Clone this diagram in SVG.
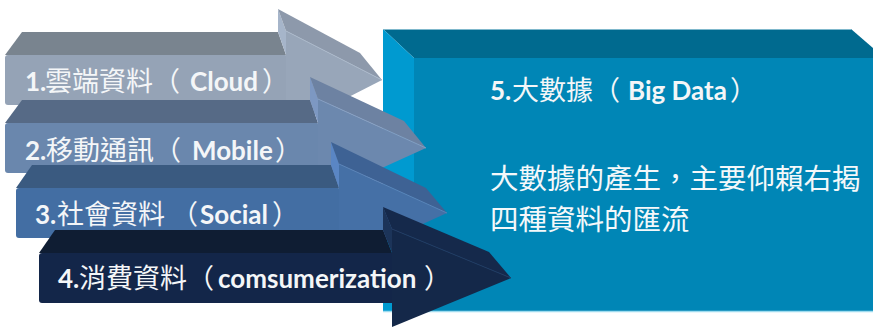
<svg xmlns="http://www.w3.org/2000/svg" width="873" height="329" viewBox="0 0 873 329">
<style>
.lbl{font-family:"Lato","Noto Sans CJK TC",sans-serif;font-size:26px;font-weight:bold;fill:#f4f6f8}
.cjk{font-family:"Noto Sans CJK TC",sans-serif;font-weight:normal;font-size:27px}
.body{font-family:"Noto Sans CJK TC",sans-serif;font-size:28.5px;fill:#f4f8fa}
.ridge{stroke-width:1;fill:none}
</style>
<rect width="873" height="329" fill="#ffffff"/>
<g id="bigdata">
  <polygon points="383,29 851,29 873,48 873,58 414,58" fill="#006a8f"/>
  <polygon points="383,29 414,58 414,311 383,311" fill="#009ad0"/>
  <rect x="414" y="58" width="459" height="253" fill="#0086b6"/>
  <line x1="383" y1="29.5" x2="851" y2="29.5" stroke="#7fb8cc" stroke-width="1"/>
  <line x1="383" y1="311.5" x2="873" y2="311.5" stroke="#9fdcef" stroke-width="1.5"/>
  <text class="lbl" x="490" y="100">5.<tspan class="cjk" x="512">大數據</tspan><tspan class="cjk" x="593">（</tspan><tspan x="628">Big Data</tspan><tspan class="cjk" x="730">）</tspan></text>
  <text class="body" x="490" y="189">大數據的產生，主要仰賴右揭</text>
  <text class="body" x="490" y="230">四種資料的匯流</text>
</g>
<g id="cloud">
  <polygon points="5,55 22,32 278,32 286,55" fill="#79848f"/>
  <polygon points="278,9 286,31 286,55 278,32" fill="#a6b5ca"/>
  <polygon points="278,9 360,53 382,80 286,31" fill="#8d99ab"/>
  <rect x="5" y="55" width="283" height="50" rx="3" fill="#95a3b6"/>
  <polygon points="286,31 382,80 286,129" fill="#98a6b9"/>
  <line class="ridge" x1="286" y1="31" x2="382" y2="80" stroke="#aab8ca"/>
  <text class="lbl" x="25" y="91">1.<tspan class="cjk" x="45">雲端資料</tspan><tspan class="cjk" x="153">（</tspan><tspan x="190">Cloud</tspan><tspan class="cjk" x="262">）</tspan></text>
</g>
<g id="mobile">
  <polygon points="5,123 22,100 310,100 318,123" fill="#566a86"/>
  <polygon points="310,77 318,99 318,123 310,100" fill="#7d98c2"/>
  <polygon points="310,77 404,121 426,148 318,99" fill="#6d82a2"/>
  <rect x="5" y="123" width="315" height="50" rx="3" fill="#6a87ad"/>
  <polygon points="318,99 426,148 318,197" fill="#6c88ae"/>
  <line class="ridge" x1="318" y1="99" x2="426" y2="148" stroke="#869fc2"/>
  <text class="lbl" x="25" y="160">2.<tspan class="cjk" x="46">移動通訊</tspan><tspan class="cjk" x="154">（</tspan><tspan x="192">Mobile</tspan><tspan class="cjk" x="275">）</tspan></text>
</g>
<g id="social">
  <polygon points="16,188 32,165 331,165 339,188" fill="#3a5a80"/>
  <polygon points="331,142 339,164 339,188 331,165" fill="#5a86c4"/>
  <polygon points="331,142 426,188 447,213 339,164" fill="#3e6294"/>
  <rect x="16" y="188" width="325" height="50" rx="3" fill="#436ea3"/>
  <polygon points="339,164 447,213 339,262" fill="#4570a6"/>
  <line class="ridge" x1="339" y1="164" x2="447" y2="213" stroke="#5b84b8"/>
  <text class="lbl" x="35" y="224">3.<tspan class="cjk" x="57">社會資料</tspan><tspan class="cjk" x="171">（</tspan><tspan x="200">Social</tspan><tspan class="cjk" x="272">）</tspan></text>
</g>
<g id="consumer">
  <polygon points="39,253 55,230 383,230 392,253" fill="#0f1d33"/>
  <polygon points="383,207 392,229 392,253 383,230" fill="#1c3459"/>
  <polygon points="383,207 489,252 511,278 392,229" fill="#15294b"/>
  <rect x="39" y="253" width="356" height="50" rx="3" fill="#132649"/>
  <polygon points="392,229 511,278 392,327" fill="#142849"/>
  <line class="ridge" x1="392" y1="229" x2="511" y2="278" stroke="#243c62"/>
  <text class="lbl" x="58" y="288">4.<tspan class="cjk" x="79">消費資料</tspan><tspan class="cjk" x="187">（</tspan><tspan x="218">comsumerization</tspan><tspan class="cjk" x="424">）</tspan></text>
</g>
</svg>
